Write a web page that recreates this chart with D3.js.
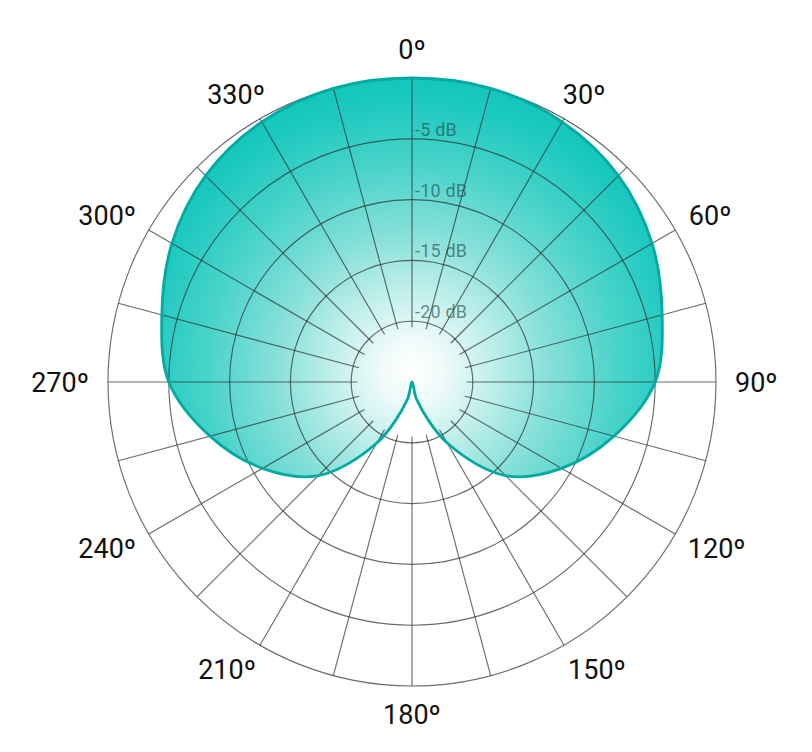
<!DOCTYPE html>
<html>
<head>
<meta charset="utf-8">
<script src="https://cdn.jsdelivr.net/npm/d3@7/dist/d3.min.js"></script>
<style>
  html, body { margin: 0; padding: 0; background: #ffffff; }
  svg { display: block; }
</style>
</head>
<body>
<svg id="chart" width="812" height="752"></svg>
<script>
// ---- data ----
const angles = [0, 15, 30, 45, 60, 75, 90, 105, 120, 135, 150, 165, 180,
                195, 210, 225, 240, 255, 270, 285, 300, 315, 330, 345];
const gainDb = [0, 0, -0.3, -1.0, -2.2, -3.7, -5.0, -7.8, -10.8, -14.1, -19.2, -23.5, -25,
                -23.5, -19.2, -14.1, -10.8, -7.8, -5.0, -3.7, -2.2, -1.0, -0.3, 0];
const ringDb = [-20, -15, -10, -5, 0];
const ringLabels = ["-20 dB", "-15 dB", "-10 dB", "-5 dB"];
const spokeAngles = d3.range(0, 360, 15);
const angleTicks = [0, 30, 60, 90, 120, 150, 180, 210, 240, 270, 300, 330];
const angleLabels = ["0º", "30º", "60º", "90º", "120º", "150º", "180º", "210º", "240º", "270º", "300º", "330º"];

// ---- layout ----
const W = 812, H = 752, cx = 412, cy = 382, R = 304;
const svg = d3.select("#chart");
const r = d3.scaleLinear().domain([-25, 0]).range([0, R]);
const rad = a => a * Math.PI / 180;

const defs = svg.append("defs");
const grad = defs.append("radialGradient")
  .attr("id", "fillGrad")
  .attr("gradientUnits", "userSpaceOnUse")
  .attr("cx", 0).attr("cy", -12).attr("r", R);
[[0, "#ffffff"], [0.1, "#f0fbfa"], [0.25, "#c4f0ec"], [0.45, "#86e0d9"],
 [0.68, "#48d3ca"], [0.88, "#1dc9bf"], [1, "#0dc4b9"]].forEach(([o, c]) =>
  grad.append("stop").attr("offset", o).attr("stop-color", c));

const g = svg.append("g").attr("transform", `translate(${cx},${cy})`);

const pts = angles.map((a, i) => ({ a, db: gainDb[i] }));
const line = d3.lineRadial()
  .angle(d => rad(d.a))
  .radius(d => r(d.db))
  .curve(d3.curveCatmullRomClosed.alpha(0.5));

// fill
g.append("path").datum(pts)
  .attr("d", line)
  .attr("fill", "url(#fillGrad)")
  .attr("stroke", "none");

// grid
const grid = g.append("g")
  .attr("fill", "none")
  .attr("stroke", "#2b3433")
  .attr("stroke-opacity", 0.72)
  .attr("stroke-width", 1.15);

grid.selectAll("circle").data(ringDb).join("circle")
  .attr("r", d => r(d));

grid.selectAll("line").data(spokeAngles).join("line")
  .attr("x1", d => Math.sin(rad(d)) * (r(-20) - 6))
  .attr("y1", d => -Math.cos(rad(d)) * (r(-20) - 6))
  .attr("x2", d => Math.sin(rad(d)) * r(0))
  .attr("y2", d => -Math.cos(rad(d)) * r(0));

// outline
g.append("path").datum(pts)
  .attr("d", line)
  .attr("fill", "none")
  .attr("stroke", "#03aaa1")
  .attr("stroke-width", 2.8)
  .attr("stroke-linejoin", "round");

// dB labels
g.selectAll("text.db").data(ringLabels).join("text")
  .attr("class", "db")
  .attr("x", 3)
  .attr("y", (d, i) => -r(ringDb[i]) - 3)
  .attr("font-family", "Roboto, 'Liberation Sans', Arial, sans-serif")
  .attr("font-size", 18)
  .attr("letter-spacing", 0.2)
  .attr("fill", "#1a4a47")
  .attr("fill-opacity", 0.62)
  .text(d => d);

// angle labels
const R0 = 323, capH = 19;
const al = g.selectAll("text.ang").data(angleTicks).join("text")
  .attr("class", "ang")
  .attr("font-family", "Roboto, 'Liberation Sans', Arial, sans-serif")
  .attr("font-size", 27)
  .attr("fill", "#111111")
  .attr("text-anchor", "middle")
  .text((d, i) => angleLabels[i]);

al.each(function (d) {
  const w = this.getComputedTextLength();
  const s = Math.sin(rad(d)), c = Math.cos(rad(d));
  const extra = c < -0.8 && Math.abs(s) > 0.3 ? 9 : 0;
  const x = s * R0 + s * w / 2 + Math.sign(s) * extra;
  const yc = -c * R0 - c * capH / 2;
  d3.select(this).attr("x", x).attr("y", yc + capH / 2);
});
</script>
</body>
</html>
